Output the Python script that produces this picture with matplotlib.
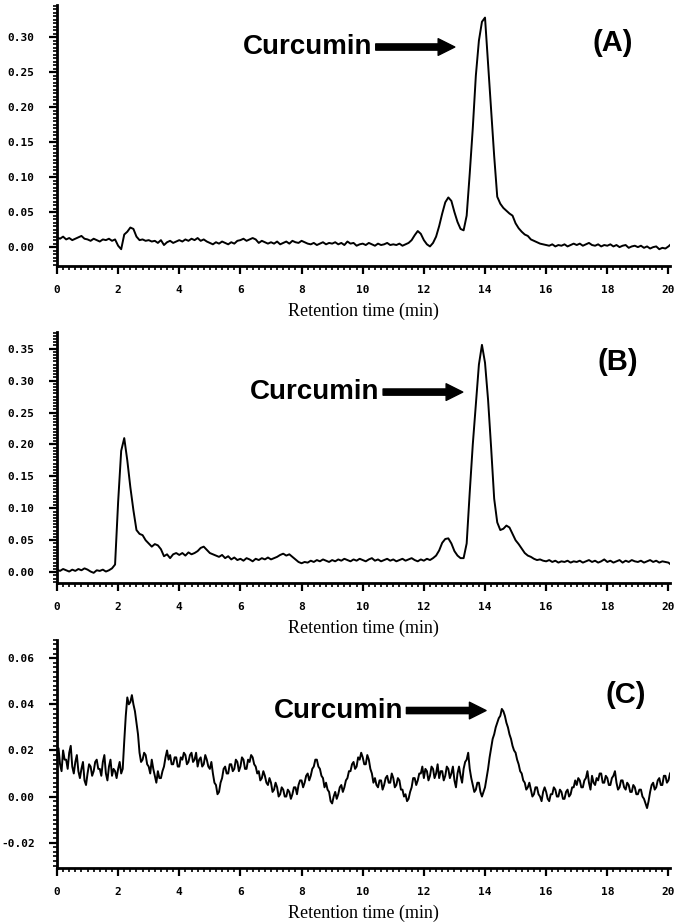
import numpy as np
import matplotlib.pyplot as plt
from matplotlib.ticker import MultipleLocator, FormatStrFormatter

# retention time grids (min); trace C was read at a finer step
time_ab = np.linspace(0, 20.1, 202)
time_c = np.linspace(0, 20.1, 403)

absorb_a = [
    0.014, 0.012, 0.015, 0.011, 0.013, 0.010, 0.012, 0.014, 0.016, 0.012,
    0.011, 0.009, 0.012, 0.010, 0.008, 0.011, 0.010, 0.012, 0.009, 0.011,
    0.002, -0.003, 0.018, 0.022, 0.028, 0.026, 0.015, 0.010, 0.011, 0.009,
    0.010, 0.008, 0.009, 0.006, 0.010, 0.003, 0.007, 0.009, 0.006, 0.008,
    0.010, 0.008, 0.011, 0.009, 0.012, 0.010, 0.013, 0.009, 0.011, 0.008,
    0.006, 0.004, 0.007, 0.005, 0.008, 0.006, 0.004, 0.007, 0.005, 0.009,
    0.010, 0.012, 0.009, 0.011, 0.013, 0.011, 0.006, 0.009, 0.007, 0.005,
    0.007, 0.005, 0.008, 0.004, 0.006, 0.008, 0.005, 0.009, 0.007, 0.006,
    0.009, 0.007, 0.005, 0.004, 0.006, 0.003, 0.005, 0.007, 0.004, 0.006,
    0.005, 0.007, 0.004, 0.006, 0.003, 0.008, 0.005, 0.006, 0.002, 0.004,
    0.005, 0.003, 0.006, 0.004, 0.002, 0.005, 0.003, 0.004, 0.006, 0.003,
    0.004, 0.003, 0.005, 0.002, 0.004, 0.006, 0.010, 0.017, 0.023, 0.019,
    0.010, 0.004, 0.001, 0.006, 0.015, 0.030, 0.048, 0.064, 0.071, 0.066,
    0.050, 0.036, 0.026, 0.024, 0.045, 0.105, 0.170, 0.245, 0.295, 0.322,
    0.328, 0.262, 0.195, 0.130, 0.072, 0.062, 0.056, 0.052, 0.048, 0.045,
    0.034, 0.027, 0.022, 0.018, 0.016, 0.011, 0.009, 0.007, 0.005, 0.004,
    0.003, 0.002, 0.004, 0.001, 0.003, 0.002, 0.004, 0.001, 0.003, 0.005,
    0.003, 0.005, 0.002, 0.004, 0.006, 0.003, 0.002, 0.004, 0.001, 0.003,
    0.002, 0.004, 0.001, 0.003, 0.000, 0.002, 0.003, -0.001, 0.001, 0.002,
    0.000, 0.002, -0.001, 0.001, -0.002, 0.000, 0.001, -0.003, -0.001, -0.002,
    0.001, 0.005,
]

absorb_b = [
    0.004, 0.002, 0.005, 0.003, 0.001, 0.004, 0.002, 0.005, 0.003, 0.006,
    0.004, 0.001, -0.001, 0.003, 0.002, 0.004, 0.001, 0.003, 0.006, 0.012,
    0.110, 0.190, 0.210, 0.175, 0.133, 0.097, 0.066, 0.060, 0.058, 0.050,
    0.045, 0.040, 0.044, 0.042, 0.036, 0.025, 0.028, 0.022, 0.028, 0.030,
    0.027, 0.030, 0.026, 0.031, 0.028, 0.030, 0.033, 0.038, 0.040, 0.035,
    0.030, 0.028, 0.026, 0.024, 0.027, 0.022, 0.025, 0.020, 0.023, 0.019,
    0.021, 0.018, 0.022, 0.020, 0.017, 0.021, 0.019, 0.022, 0.020, 0.023,
    0.020, 0.022, 0.024, 0.027, 0.029, 0.026, 0.028, 0.024, 0.020, 0.016,
    0.014, 0.016, 0.015, 0.018, 0.016, 0.019, 0.017, 0.020, 0.018, 0.016,
    0.019, 0.017, 0.020, 0.018, 0.021, 0.019, 0.017, 0.020, 0.018, 0.021,
    0.019, 0.017, 0.020, 0.022, 0.018, 0.020, 0.017, 0.019, 0.021, 0.018,
    0.020, 0.017, 0.019, 0.021, 0.018, 0.020, 0.022, 0.019, 0.017, 0.020,
    0.018, 0.021, 0.019, 0.022, 0.026, 0.034, 0.046, 0.052, 0.053, 0.045,
    0.033, 0.026, 0.022, 0.022, 0.045, 0.125, 0.200, 0.262, 0.325, 0.356,
    0.328, 0.270, 0.195, 0.115, 0.078, 0.066, 0.068, 0.073, 0.070, 0.060,
    0.050, 0.044, 0.037, 0.030, 0.026, 0.024, 0.021, 0.019, 0.020, 0.018,
    0.017, 0.019, 0.016, 0.018, 0.015, 0.017, 0.016, 0.018, 0.015, 0.017,
    0.016, 0.018, 0.015, 0.017, 0.019, 0.016, 0.018, 0.015, 0.017, 0.020,
    0.016, 0.018, 0.015, 0.017, 0.019, 0.015, 0.018, 0.016, 0.019, 0.017,
    0.016, 0.018, 0.015, 0.017, 0.019, 0.016, 0.018, 0.015, 0.017, 0.016,
    0.015, 0.011,
]

absorb_c = [
    0.018, 0.021, 0.014, 0.011, 0.020, 0.016, 0.016, 0.012, 0.019, 0.022,
    0.013, 0.010, 0.015, 0.018, 0.011, 0.008, 0.012, 0.015, 0.007, 0.005,
    0.010, 0.014, 0.013, 0.009, 0.011, 0.015, 0.016, 0.012, 0.012, 0.009,
    0.015, 0.018, 0.010, 0.007, 0.013, 0.016, 0.009, 0.012, 0.011, 0.008,
    0.012, 0.015, 0.010, 0.012, 0.024, 0.035, 0.043, 0.040, 0.041, 0.044,
    0.040, 0.037, 0.032, 0.027, 0.019, 0.015, 0.016, 0.019, 0.018, 0.014,
    0.013, 0.010, 0.016, 0.012, 0.009, 0.006, 0.011, 0.008, 0.008, 0.011,
    0.013, 0.017, 0.020, 0.016, 0.018, 0.014, 0.014, 0.017, 0.017, 0.013,
    0.013, 0.017, 0.016, 0.019, 0.018, 0.014, 0.015, 0.018, 0.019, 0.015,
    0.016, 0.019, 0.013, 0.016, 0.017, 0.013, 0.014, 0.018, 0.016, 0.013,
    0.012, 0.015, 0.010, 0.006, 0.005, 0.001, 0.002, 0.006, 0.008, 0.012,
    0.013, 0.010, 0.010, 0.014, 0.014, 0.011, 0.012, 0.016, 0.015, 0.011,
    0.013, 0.017, 0.016, 0.012, 0.012, 0.016, 0.015, 0.018, 0.017, 0.014,
    0.013, 0.010, 0.011, 0.007, 0.008, 0.011, 0.009, 0.006, 0.005, 0.008,
    0.006, 0.002, 0.003, 0.006, 0.004, 0.000, 0.001, 0.004, 0.003, 0.000,
    0.000, 0.003, 0.002, -0.001, 0.001, 0.004, 0.004, 0.001, 0.005, 0.007,
    0.007, 0.004, 0.006, 0.009, 0.010, 0.007, 0.009, 0.012, 0.013, 0.016,
    0.016, 0.013, 0.012, 0.009, 0.008, 0.004, 0.006, 0.003, 0.002, -0.002,
    -0.003, 0.000, 0.002, -0.001, 0.001, 0.004, 0.005, 0.002, 0.004, 0.007,
    0.008, 0.011, 0.011, 0.014, 0.015, 0.012, 0.013, 0.017, 0.016, 0.019,
    0.017, 0.014, 0.014, 0.018, 0.016, 0.012, 0.010, 0.006, 0.008, 0.005,
    0.004, 0.007, 0.007, 0.003, 0.005, 0.008, 0.009, 0.006, 0.006, 0.010,
    0.008, 0.004, 0.005, 0.008, 0.007, 0.003, 0.003, 0.000, 0.001, -0.002,
    -0.001, 0.002, 0.004, 0.008, 0.008, 0.005, 0.007, 0.010, 0.010, 0.013,
    0.008, 0.012, 0.011, 0.007, 0.009, 0.013, 0.012, 0.008, 0.010, 0.014,
    0.008, 0.011, 0.011, 0.007, 0.009, 0.013, 0.012, 0.008, 0.010, 0.013,
    0.007, 0.004, 0.010, 0.013, 0.009, 0.006, 0.012, 0.015, 0.016, 0.019,
    0.012, 0.008, 0.005, 0.002, 0.003, 0.006, 0.006, 0.002, 0.000, 0.002,
    0.004, 0.008, 0.012, 0.017, 0.021, 0.025, 0.027, 0.030, 0.032, 0.034,
    0.035, 0.038, 0.037, 0.035, 0.032, 0.030, 0.027, 0.025, 0.022, 0.020,
    0.019, 0.016, 0.014, 0.011, 0.010, 0.007, 0.006, 0.003, 0.004, 0.006,
    0.003, 0.000, 0.001, 0.004, 0.004, 0.001, 0.000, -0.002, 0.002, 0.004,
    0.002, -0.001, -0.002, 0.001, 0.001, 0.004, 0.003, 0.000, 0.000, 0.003,
    0.002, -0.001, -0.001, 0.002, 0.003, 0.000, 0.001, 0.004, 0.004, 0.007,
    0.005, 0.008, 0.007, 0.004, 0.004, 0.007, 0.008, 0.011, 0.006, 0.003,
    0.009, 0.006, 0.005, 0.008, 0.007, 0.010, 0.010, 0.006, 0.006, 0.009,
    0.008, 0.005, 0.005, 0.008, 0.009, 0.011, 0.006, 0.003, 0.004, 0.007,
    0.007, 0.004, 0.003, 0.006, 0.005, 0.002, 0.002, 0.005, 0.004, 0.001,
    0.001, 0.003, 0.003, 0.000, -0.001, -0.003, -0.005, -0.002, 0.002, 0.005,
    0.006, 0.003, 0.004, 0.007, 0.008, 0.005, 0.005, 0.009, 0.009, 0.006,
    0.007, 0.010, 0.011,
]

times = [time_ab, time_ab, time_c]
traces = [absorb_a, absorb_b, absorb_c]
panel_labels = ['(A)', '(B)', '(C)']
peak_name = 'Curcumin'
x_label = 'Retention time (min)'
x_ticks = [0, 2, 4, 6, 8, 10, 12, 14, 16, 18, 20]

# per panel: axes rect, ylim, y major / minor step
rects = [[0.0827, 0.7121, 0.8897, 0.2825],
         [0.0827, 0.3690, 0.8897, 0.2716],
         [0.0827, 0.0606, 0.8897, 0.2470]]
ylims = [(-0.027, 0.346), (-0.017, 0.376), (-0.031, 0.068)]
y_major = [0.05, 0.05, 0.02]
y_minor = [0.005, 0.005, 0.002]
# label positions in axes fraction
name_pos = [(0.409, 0.839), (0.421, 0.761), (0.460, 0.690)]
arrow_x = [(0.520, 0.649), (0.532, 0.662), (0.570, 0.700)]
tag_pos = [(0.907, 0.854), (0.915, 0.880), (0.928, 0.760)]

fig = plt.figure(figsize=(6.89, 9.24), dpi=100)

for i in range(3):
    ax = fig.add_axes(rects[i])
    ax.plot(times[i], traces[i], color='black', lw=1.4)
    ax.set_xlim(0, 20.05)
    ax.set_ylim(*ylims[i])

    ax.spines['top'].set_visible(False)
    ax.spines['right'].set_visible(False)
    ax.spines['left'].set_linewidth(2)
    ax.spines['bottom'].set_linewidth(2)

    ax.set_xticks(x_ticks)
    ax.xaxis.set_minor_locator(MultipleLocator(0.2))
    ax.yaxis.set_major_locator(MultipleLocator(y_major[i]))
    ax.yaxis.set_minor_locator(MultipleLocator(y_minor[i]))
    ax.yaxis.set_major_formatter(FormatStrFormatter('%.2f'))
    ax.tick_params(which='major', direction='out', length=6, width=1.6)
    ax.tick_params(which='minor', direction='out', length=3, width=1.2)
    ax.tick_params(axis='x', which='major', pad=8)
    ax.tick_params(axis='y', which='major', pad=10)
    for lab in ax.get_xticklabels() + ax.get_yticklabels():
        lab.set_family('DejaVu Sans Mono')
        lab.set_fontweight('bold')
        lab.set_fontsize(8)

    ax.set_xlabel(x_label, family='Liberation Serif', fontsize=13, labelpad=5)

    ax.text(*name_pos[i], peak_name, transform=ax.transAxes, ha='center', va='center',
            family='Liberation Sans', fontweight='bold', fontsize=20)
    y_arr = name_pos[i][1]
    ax.annotate('', xy=(arrow_x[i][1], y_arr), xytext=(arrow_x[i][0], y_arr),
                xycoords='axes fraction', textcoords='axes fraction',
                arrowprops=dict(facecolor='black', edgecolor='black', width=4.5,
                                headwidth=12, headlength=12, shrink=0))
    ax.text(*tag_pos[i], panel_labels[i], transform=ax.transAxes, ha='center', va='center',
            family='Liberation Sans', fontweight='bold', fontsize=21)

plt.savefig('out.png', dpi=100)
